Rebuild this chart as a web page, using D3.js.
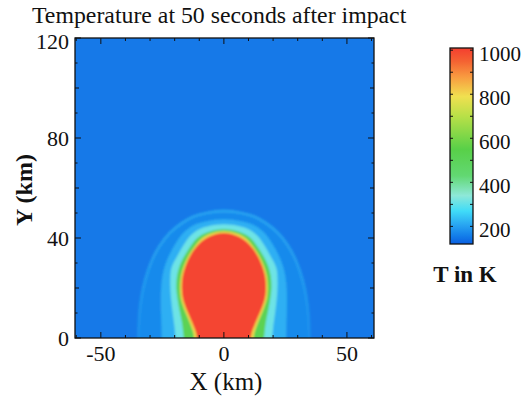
<!DOCTYPE html>
<html><head><meta charset="utf-8">
<script src="https://cdn.jsdelivr.net/npm/d3@7"></script>
<style>
html,body{margin:0;padding:0;background:#fff;}
svg{display:block;}
</style>
</head><body>
<svg id="c" width="529" height="396"></svg>
<script>
// ---------- data ----------
const titleText = "Temperature at 50 seconds after impact";
const xLabel = "X (km)";
const yLabel = "Y (km)";
const cbLabel = "T in K";
const xTicks = [-50, 0, 50];
const yTicks = [0, 40, 80, 120];
const cbTicks = [200, 400, 600, 800, 1000];

// colour map (temperature K -> colour)
const cmapT = [120, 160, 210, 270, 340, 430, 550, 700, 790, 880, 950, 1000];
const cmapC = ["#0a5ee0", "#1480ea", "#2aa8f2", "#40dcf8", "#8ee8d8", "#62d872",
               "#58d048", "#b8e048", "#f0e050", "#f89a40", "#f46232", "#f44430"];

// temperature bands: each shape is [Y km, half-width km], band temperature in K
const backgroundT = 152;
const haloT = 172;
const haloRingT = 205;
const haloShape = [[0,34.8],[6,34.6],[13,34],[20,32.8],[27,30.8],[32,28.8],[37,26],[42,22],[46,17],[48.5,12.5],[50,7],[50.8,0]];
const lightBlueT = 218;
const lightBlueShape = [[0,25.3],[5,25.4],[12,25.6],[20,25.5],[27,24.5],[33,22.3],[38,19.5],[42,16.5],[45,12.5],[46.7,7],[47.5,0]];
const cyanT = 310;
const cyanShape = [[0,19.7],[4,20],[10,20.8],[16,21.5],[22,21.8],[28,21.3],[33,18.8],[37,16.5],[41,13.5],[43.5,10],[44.8,6],[45.5,0]];
const greenT = 520;
const greenShape = [[0,16.3],[2,16.5],[6,17],[11,18],[15.5,18.8],[20,19.3],[25,19],[29,17.9],[33,15.9],[36,14],[39.5,11.3],[41.5,8.5],[42.8,5],[43.5,0]];
const yellowT = 800;
const yellowShape = [[0,12.1],[2,12.4],[6,13.8],[11,15.9],[15.5,17.4],[20,17.8],[25,17.4],[29,16.2],[33,14.3],[36.3,12.1],[39,9.9],[40.8,7.5],[42,4.5],[42.7,0]];
const redT = 1000;
const redShape = [[0,11],[2,11.3],[6,12.8],[11,15],[15.5,16.6],[20,17.1],[25,16.7],[29,15.5],[33,13.6],[36,11.6],[38.5,9.2],[40.2,6.7],[41.3,4],[42,0]];

// ---------- layout ----------
const FONT = "'Liberation Serif', Tinos, 'Times New Roman', Times, 'DejaVu Serif', serif";
const svg = d3.select("#c");
const P = {l:75, r:374, t:38, b:338};
const x = d3.scaleLinear().domain([-60.5, 61]).range([P.l, P.r]);
const y = d3.scaleLinear().domain([0, 120]).range([P.b, P.t]);
const color = d3.scaleLinear().domain(cmapT).range(cmapC).interpolate(d3.interpolateRgb).clamp(true);

const defs = svg.append("defs");
defs.append("clipPath").attr("id","plotclip").append("rect")
  .attr("x",P.l).attr("y",P.t).attr("width",P.r-P.l).attr("height",P.b-P.t);
const blur = defs.append("filter").attr("id","soft")
  .attr("x","-10%").attr("y","-10%").attr("width","120%").attr("height","120%");
blur.append("feGaussianBlur").attr("stdDeviation",0.9);

function shapePath(shape){
  const asc = shape.slice().sort((a,b)=>a[0]-b[0]);
  const pts = [[x(asc[0][1]), y(asc[0][0]) + 10]];
  asc.forEach(d=>pts.push([x(d[1]), y(d[0])]));
  for (let i = asc.length-2; i >= 0; i--) pts.push([x(-asc[i][1]), y(asc[i][0])]);
  pts.push([x(-asc[0][1]), y(asc[0][0]) + 10]);
  return d3.line().curve(d3.curveCatmullRom.alpha(0.5))(pts) + "Z";
}
function txt(sel){ return sel.attr("font-family", FONT).attr("fill","#111"); }

const clipG = svg.append("g").attr("clip-path","url(#plotclip)");
const field = clipG.append("g").attr("filter","url(#soft)");
field.append("rect").attr("x",P.l-20).attr("y",P.t-20)
  .attr("width",P.r-P.l+40).attr("height",P.b-P.t+40).attr("fill",color(backgroundT));

// halo with a faint light rim that fades toward the ground
const ringGrad = defs.append("linearGradient").attr("id","ringgrad")
  .attr("gradientUnits","userSpaceOnUse").attr("x1",0).attr("x2",0)
  .attr("y1",y(0)).attr("y2",y(50.8));
ringGrad.append("stop").attr("offset",0).attr("stop-color",color(haloRingT)).attr("stop-opacity",0.35);
ringGrad.append("stop").attr("offset",0.5).attr("stop-color",color(haloRingT)).attr("stop-opacity",0.75);
ringGrad.append("stop").attr("offset",1).attr("stop-color",color(haloRingT)).attr("stop-opacity",0.95);
field.append("path").attr("d",shapePath(haloShape)).attr("fill",color(haloT))
  .attr("stroke","url(#ringgrad)").attr("stroke-width",2.8);
const bands = [
  {shape:lightBlueShape, t:lightBlueT},
  {shape:cyanShape, t:cyanT},
  {shape:greenShape, t:greenT},
  {shape:yellowShape, t:yellowT},
  {shape:redShape, t:redT}
];
field.selectAll("path.band").data(bands).enter().append("path").attr("class","band")
  .attr("d",d=>shapePath(d.shape)).attr("fill",d=>color(d.t));

// ticks (inside)
const tg = svg.append("g").attr("stroke","#111").attr("stroke-width",1);
d3.range(-60, 61, 10).forEach(v=>{
  const L = (v % 50 === 0) ? 6 : 3;
  tg.append("line").attr("x1",x(v)).attr("x2",x(v)).attr("y1",P.b).attr("y2",P.b-L);
  tg.append("line").attr("x1",x(v)).attr("x2",x(v)).attr("y1",P.t).attr("y2",P.t+L);
});
d3.range(0, 121, 10).forEach(v=>{
  const L = (v % 40 === 0) ? 6 : (v % 20 === 0 ? 4 : 2.5);
  tg.append("line").attr("y1",y(v)).attr("y2",y(v)).attr("x1",P.l).attr("x2",P.l+L);
  tg.append("line").attr("y1",y(v)).attr("y2",y(v)).attr("x1",P.r).attr("x2",P.r-L);
});
svg.append("rect").attr("x",P.l).attr("y",P.t).attr("width",P.r-P.l).attr("height",P.b-P.t)
  .attr("fill","none").attr("stroke","#111").attr("stroke-width",1.3);

// tick labels
const fmt = v => String(v).replace("\u2212","-");
txt(svg.append("g").selectAll("text").data(xTicks).enter().append("text"))
  .attr("x",d=>x(d)).attr("y",361).attr("text-anchor","middle")
  .attr("font-size",22).text(fmt);
txt(svg.append("g").selectAll("text").data(yTicks).enter().append("text"))
  .attr("x",69).attr("y",d=>Math.max(y(d), P.t + 3)).attr("dy","0.35em").attr("text-anchor","end")
  .attr("font-size",22).text(fmt);

// titles
txt(svg.append("text")).attr("x",32).attr("y",23).attr("font-size",23.8).text(titleText);
txt(svg.append("text")).attr("x",226).attr("y",390).attr("text-anchor","middle")
  .attr("font-size",25).text(xLabel);
txt(svg.append("text")).attr("transform","translate(32,190) rotate(-90)").attr("text-anchor","middle")
  .attr("font-size",24).attr("font-weight","bold").text(yLabel);

// colour bar
const CB = {x:450, w:23, t:48, b:244};
const cb = d3.scaleLinear().domain([120, 1010]).range([CB.b, CB.t]);
const grad = defs.append("linearGradient").attr("id","cbgrad")
  .attr("x1",0).attr("y1",1).attr("x2",0).attr("y2",0);
const [lo, hi] = cb.domain();
cmapT.forEach((t,i)=>{
  grad.append("stop").attr("offset", Math.max(0,(t-lo)/(hi-lo))).attr("stop-color", cmapC[i]);
});
grad.append("stop").attr("offset",1).attr("stop-color",color(hi));
svg.append("rect").attr("x",CB.x).attr("y",CB.t).attr("width",CB.w).attr("height",CB.b-CB.t)
  .attr("fill","url(#cbgrad)");
const cbt = svg.append("g").attr("stroke","#111").attr("stroke-width",1);
d3.range(200, 1001, 100).forEach(v=>{
  cbt.append("line").attr("x1",CB.x).attr("x2",CB.x+3).attr("y1",cb(v)).attr("y2",cb(v));
  cbt.append("line").attr("x1",CB.x+CB.w).attr("x2",CB.x+CB.w-3).attr("y1",cb(v)).attr("y2",cb(v));
});
svg.append("rect").attr("x",CB.x).attr("y",CB.t).attr("width",CB.w).attr("height",CB.b-CB.t)
  .attr("fill","none").attr("stroke","#111").attr("stroke-width",1.3);
txt(svg.append("g").selectAll("text").data(cbTicks).enter().append("text"))
  .attr("x",479).attr("y",d=>cb(d)+3).attr("dy","0.35em")
  .attr("font-size",21).text(d=>d);
txt(svg.append("text")).attr("x",465).attr("y",282).attr("text-anchor","middle")
  .attr("font-size",23).attr("font-weight","bold").text(cbLabel);
</script>
</body></html>
